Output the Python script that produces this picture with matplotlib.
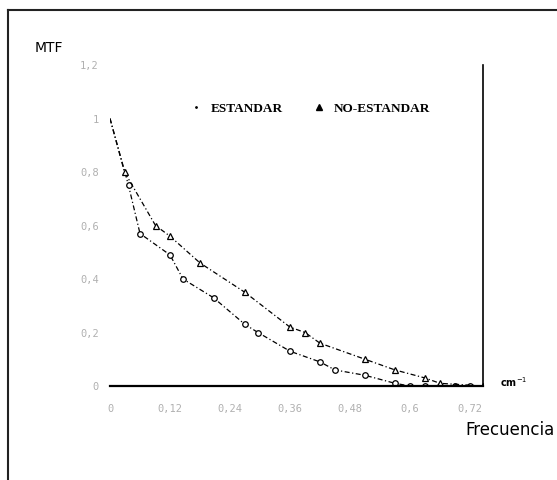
import matplotlib
matplotlib.use("Agg")
import matplotlib.pyplot as plt
from matplotlib.lines import Line2D

# MTF curves
freq_std = [0.0, 0.037, 0.06, 0.12, 0.146, 0.207, 0.27, 0.296, 0.36, 0.42, 0.45, 0.51,
            0.57, 0.60, 0.63, 0.66, 0.69, 0.72]
mtf_std = [1.0, 0.75, 0.57, 0.49, 0.40, 0.33, 0.23, 0.20, 0.13, 0.09, 0.06, 0.04,
           0.01, 0.0, 0.0, 0.0, 0.0, 0.0]

freq_nostd = [0.0, 0.029, 0.091, 0.12, 0.18, 0.27, 0.36, 0.39, 0.42, 0.51, 0.57, 0.63,
              0.66, 0.745]
mtf_nostd = [1.0, 0.80, 0.60, 0.56, 0.46, 0.35, 0.22, 0.20, 0.16, 0.10, 0.06, 0.03,
             0.01, 0.0]

xticks = [0, 0.12, 0.24, 0.36, 0.48, 0.6, 0.72]
xtick_labels = ["0", "0,12", "0,24", "0,36", "0,48", "0,6", "0,72"]
yticks = [0, 0.2, 0.4, 0.6, 0.8, 1.0, 1.2]
ytick_labels = ["0", "0,2", "0,4", "0,6", "0,8", "1", "1,2"]

W, H = 557, 480
fig = plt.figure(figsize=(W / 100, H / 100), dpi=100)
ax = fig.add_axes([110 / W, (H - 386) / H, (483 - 110) / W, (386 - 65) / H])

dash = (0, (4, 2, 1, 2))
ax.plot(freq_std, mtf_std, color="black", lw=0.9, linestyle=dash,
        marker="o", ms=4, mfc="white", mec="black", mew=0.9, markevery=slice(1, None))
ax.plot(freq_nostd, mtf_nostd, color="black", lw=0.9, linestyle=dash,
        marker="^", ms=4.5, mfc="white", mec="black", mew=0.9, markevery=slice(1, None))

ax.set_xlim(0, 0.746)
ax.set_ylim(0, 1.2)
ax.set_xticks(xticks)
ax.set_xticklabels(xtick_labels)
ax.set_yticks(yticks)
ax.set_yticklabels(ytick_labels)
ax.tick_params(length=0, labelsize=7.5, colors="#b0b0b0")
ax.tick_params(axis="x", pad=13)
ax.tick_params(axis="y", pad=8)
for lab in ax.get_xticklabels() + ax.get_yticklabels():
    lab.set_family("DejaVu Sans Mono")

for side in ["left", "top"]:
    ax.spines[side].set_visible(False)
ax.spines["bottom"].set_linewidth(1.6)
ax.spines["right"].set_linewidth(1.2)

handles = [
    Line2D([], [], color="black", marker=".", ms=2, linestyle="none"),
    Line2D([], [], color="black", marker="^", ms=4, linestyle="none"),
]
fig.legend(handles, ["ESTANDAR", "NO-ESTANDAR"], ncol=2, frameon=False,
           loc="center left", bbox_to_anchor=(176 / W, 1 - 109 / H),
           prop={"family": "Liberation Serif", "weight": "bold", "size": 9.5},
           handletextpad=0.5, columnspacing=2.2, handlelength=1.2)

fig.text(35 / W, 1 - 48 / H, "MTF", fontsize=10, va="center", ha="left")
fig.text(555 / W, 1 - 430 / H, "Frecuencia", fontsize=12, va="center", ha="right")
fig.text(500 / W, 1 - 382 / H, "cm$^{-1}$", fontsize=7, va="center", ha="left",
         fontweight="bold")

# frame lines of the original picture
fig.add_artist(Line2D([8 / W, 8 / W], [0, 1 - 10 / H], transform=fig.transFigure,
                      color="#222222", lw=1.5))
fig.add_artist(Line2D([8 / W, 1], [1 - 10 / H, 1 - 10 / H], transform=fig.transFigure,
                      color="#222222", lw=1.5))

fig.savefig("out.png", dpi=100)
